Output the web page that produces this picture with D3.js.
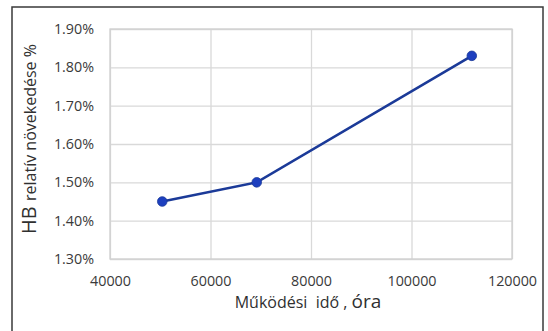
<!DOCTYPE html>
<html><head><meta charset="utf-8">
<script src="https://cdn.jsdelivr.net/npm/d3@7"></script>
<style>body{margin:0;background:#fff}svg{display:block}</style>
</head><body>
<svg id="c" width="548" height="331"></svg>
<script>
const hours = [50400, 69200, 112000];
const growth = [1.45, 1.50, 1.83];
const xTicks = [40000, 60000, 80000, 100000, 120000];
const yTicks = [1.30, 1.40, 1.50, 1.60, 1.70, 1.80, 1.90];

const svg = d3.select("#c");
const font = "'Open Sans', sans-serif";
svg.append("rect").attr("x", 12).attr("y", 7).attr("width", 531).attr("height", 340)
  .attr("fill", "#fff").attr("stroke", "#3a3a3a").attr("stroke-width", 1.5);

const x = d3.scaleLinear().domain([40000, 120000]).range([110, 512]);
const y = d3.scaleLinear().domain([1.30, 1.90]).range([259, 29]);

const gx = svg.append("g").attr("transform", "translate(0,259)")
  .call(d3.axisBottom(x).tickValues(xTicks).tickSize(-230).tickPadding(17).tickFormat(d3.format("d")));
const gy = svg.append("g").attr("transform", "translate(110,0)")
  .call(d3.axisLeft(y).tickValues(yTicks).tickSize(-402).tickPadding(16).tickFormat(d => d.toFixed(2) + "%"));
[gx, gy].forEach(g => {
  g.select(".domain").remove();
  g.selectAll("line").attr("stroke", "#d9d9d9").attr("stroke-width", 1.3);
  g.selectAll("text").attr("font-family", font).attr("font-size", 14.3).attr("fill", "#3a3a3a");
});
svg.append("rect").attr("x", 110).attr("y", 29).attr("width", 402).attr("height", 230)
  .attr("fill", "none").attr("stroke", "#d0d0d0").attr("stroke-width", 1.3);

const data = hours.map((h, i) => [h, growth[i]]);
svg.append("path").datum(data)
  .attr("d", d3.line().x(d => x(d[0])).y(d => y(d[1])))
  .attr("fill", "none").attr("stroke", "#1b3a98").attr("stroke-width", 2.6);
svg.selectAll("circle").data(data).join("circle")
  .attr("cx", d => x(d[0])).attr("cy", d => y(d[1])).attr("r", 4.8)
  .attr("fill", "#1d3fbf").attr("stroke", "#1b3a98").attr("stroke-width", 0.8);

const xt = svg.append("text").attr("x", 308).attr("y", 308).attr("text-anchor", "middle")
  .attr("font-family", font).attr("fill", "#303030").style("white-space", "pre");
xt.append("tspan").attr("font-size", 16).text("Működési  idő , ");
xt.append("tspan").attr("font-size", 19).text("óra");

const yt = svg.append("text").attr("transform", "translate(36,139) rotate(-90)").attr("text-anchor", "middle")
  .attr("font-family", font).attr("fill", "#303030");
yt.append("tspan").attr("font-size", 20).text("HB ");
yt.append("tspan").attr("font-size", 16).text("relatív növekedése %");
</script>
</body></html>
